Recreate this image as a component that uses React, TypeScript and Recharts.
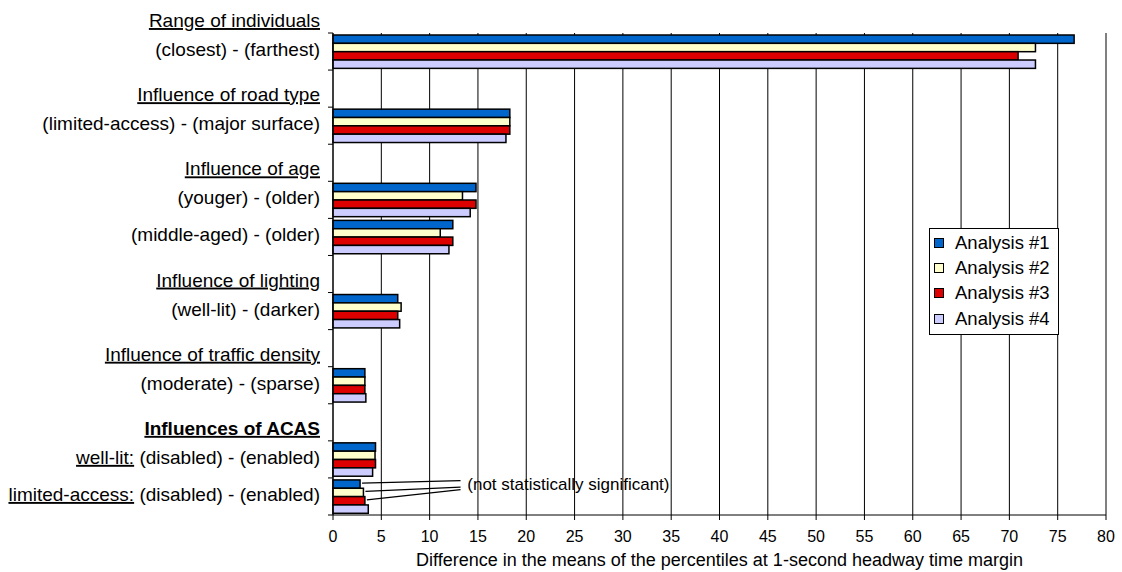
import React from 'react';
import { BarChart, Bar, XAxis, YAxis, CartesianGrid, Legend, Label } from 'recharts';

// rows of the chart, top to bottom (empty rows are spacers under a heading)
const rowIds = ['r0', 'r1', 'r2', 'r3', 'r4', 'r5', 'r6', 'r7', 'r8', 'r9', 'r10', 'r11', 'r12'];
const rowHeadings = [
  'Range of individuals', '', 'Influence of road type', '', 'Influence of age', '', '',
  'Influence of lighting', '', 'Influence of traffic density', '', 'Influences of ACAS', '',
];
const rowPrefixes = ['', '', '', '', '', '', '', '', '', '', '', 'well-lit:', 'limited-access:'];
const rowLabels = [
  '(closest) - (farthest)', '', '(limited-access) - (major surface)', '', '(youger) - (older)',
  '(middle-aged) - (older)', '', '(well-lit) - (darker)', '', '(moderate) - (sparse)', '',
  '(disabled) - (enabled)', '(disabled) - (enabled)',
];

const analysis1 = [76.7, null, 18.3, null, 14.8, 12.4, null, 6.7, null, 3.3, null, 4.4, 2.8];
const analysis2 = [72.7, null, 18.3, null, 13.4, 11.1, null, 7.05, null, 3.3, null, 4.35, 3.15];
const analysis3 = [70.9, null, 18.3, null, 14.8, 12.4, null, 6.7, null, 3.3, null, 4.4, 3.3];
const analysis4 = [72.7, null, 17.9, null, 14.2, 12.0, null, 6.9, null, 3.4, null, 4.1, 3.65];

const seriesNames = ['Analysis #1', 'Analysis #2', 'Analysis #3', 'Analysis #4'];
const xTicks = [0, 5, 10, 15, 20, 25, 30, 35, 40, 45, 50, 55, 60, 65, 70, 75, 80];

const noteText = '(not statistically significant)';
const noteRow = 'r12';
const noteAt = 13.2; // x value where the leader lines meet the note

const KEYS = ['a1', 'a2', 'a3', 'a4'];
const COLORS = ['#0066CC', '#FFFFCC', '#DD0000', '#CCCCFF'];
const FONT = '"Liberation Sans", Arial, sans-serif';
const PLOT_TOP = 33;
const PLOT_BOTTOM = 515;
const BAND = (PLOT_BOTTOM - PLOT_TOP) / rowIds.length;
const BAR = (BAND * 0.9) / 4;
const NOTE_OFFSETS = [-3.5, 3, 5.5];

const data = rowIds.map((id, i) => ({
  id,
  a1: analysis1[i],
  a2: analysis2[i],
  a3: analysis3[i],
  a4: analysis4[i],
}));

const CategoryTick = (props: any) => {
  const { x, y, index } = props;
  const axisX = x + 13;
  const heading = rowHeadings[index];
  const prefix = rowPrefixes[index];
  const label = rowLabels[index];
  const last = index === rowIds.length - 1;
  return (
    <g>
      <line x1={axisX - 5} x2={axisX} y1={y - BAND / 2} y2={y - BAND / 2} stroke="#000" />
      {last && <line x1={axisX - 5} x2={axisX} y1={y + BAND / 2} y2={y + BAND / 2} stroke="#000" />}
      {heading && (
        <text
          x={x}
          y={y - 24.5}
          textAnchor="end"
          fontSize={19}
          fill="#000"
          fontWeight={index === 11 ? 'bold' : 'normal'}
          textDecoration="underline"
        >
          {heading}
        </text>
      )}
      {label && (
        <text x={x} y={y + 4.5} textAnchor="end" fontSize={19} fill="#000">
          {prefix && <tspan textDecoration="underline">{prefix}</tspan>}
          {prefix ? ' ' + label : label}
        </text>
      )}
    </g>
  );
};

// bar with the leader lines / note drawn on the last row
const makeShape = (s: number) => (props: any) => {
  const { x, y, width, height, payload } = props;
  const value = payload ? payload[KEYS[s]] : null;
  let note = null;
  if (payload && payload.id === noteRow && s < 3 && value) {
    const ppu = width / value;
    const textY = y + height / 2 - s * height;
    note = (
      <g>
        <line
          x1={x + width + 2}
          y1={y + height / 2 - 1}
          x2={x + ppu * noteAt}
          y2={textY + NOTE_OFFSETS[s]}
          stroke="#000"
          strokeWidth={1.2}
        />
        {s === 0 && (
          <text x={x + ppu * (noteAt + 0.7)} y={textY + 6} fontSize={17} fill="#000">
            {noteText}
          </text>
        )}
      </g>
    );
  }
  return (
    <g>
      <rect x={x} y={y} width={width} height={height} fill={COLORS[s]} stroke="#000" strokeWidth={1.5} />
      {note}
    </g>
  );
};

const LegendBox = () => (
  <div
    style={{
      border: '1px solid #000',
      background: '#fff',
      padding: '1px 8px 3px 4px',
      fontFamily: FONT,
      fontSize: 18.5,
      color: '#000',
    }}
  >
    {seriesNames.map((n, i) => (
      <div key={n} style={{ display: 'flex', alignItems: 'center', height: 25.3, whiteSpace: 'nowrap' }}>
        <span
          style={{
            display: 'inline-block',
            width: 8,
            height: 8,
            border: '1px solid #000',
            background: COLORS[i],
            marginRight: 11,
          }}
        />
        <span>{n}</span>
      </div>
    ))}
  </div>
);

export default function App() {
  return (
    <div style={{ position: 'absolute', left: 0, top: 0, width: 1122, height: 572, background: '#fff', fontFamily: FONT }}>
      <BarChart
        width={1122}
        height={572}
        data={data}
        layout="vertical"
        margin={{ top: PLOT_TOP, right: 16, bottom: 0, left: 0 }}
        barCategoryGap="5%"
        barGap={0}
      >
        <CartesianGrid horizontal={false} stroke="#000" />
        <XAxis
          type="number"
          domain={[0, 80]}
          ticks={xTicks}
          height={57}
          tickSize={5}
          tickMargin={11}
          tick={{ fill: '#000', fontSize: 16 }}
          tickLine={{ stroke: '#000' }}
          axisLine={{ stroke: '#000' }}
        >
          <Label
            value="Difference in the means of the percentiles at 1-second headway time margin"
            position="insideBottom"
            offset={6}
            fontSize={18}
            fill="#000"
          />
        </XAxis>
        <YAxis
          type="category"
          dataKey="id"
          width={333}
          interval={0}
          tickSize={0}
          tickMargin={13}
          tickLine={false}
          tick={<CategoryTick />}
          axisLine={{ stroke: '#000' }}
        />
        <Legend
          layout="vertical"
          align="center"
          verticalAlign="middle"
          content={<LegendBox />}
          wrapperStyle={{ left: 929, top: 228, width: 'auto' }}
        />
        {KEYS.map((k, i) => (
          <Bar
            key={k}
            dataKey={k}
            name={seriesNames[i]}
            fill={COLORS[i]}
            stroke="#000"
            barSize={BAR}
            shape={makeShape(i)}
            isAnimationActive={false}
          />
        ))}
      </BarChart>
    </div>
  );
}
